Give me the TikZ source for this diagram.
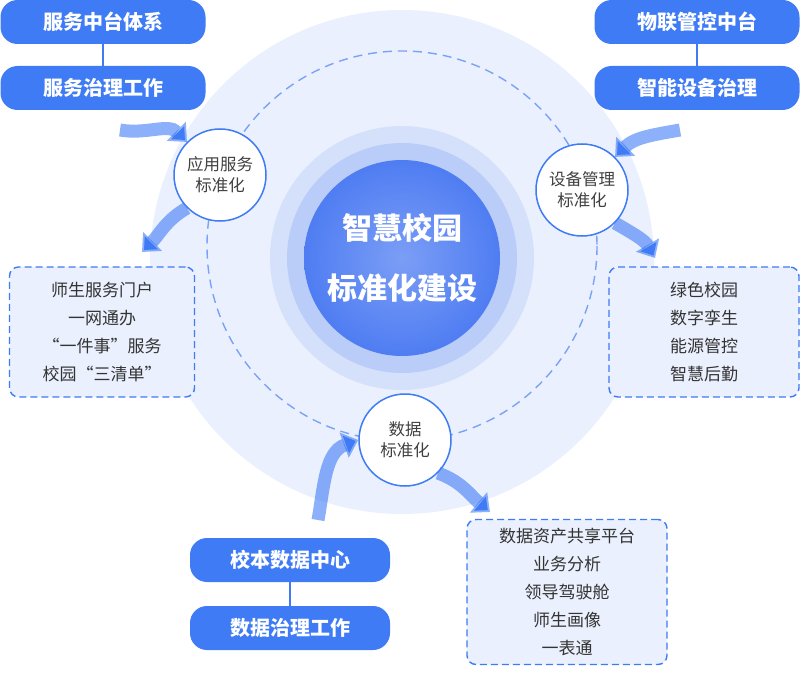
\documentclass[tikz,border=0pt]{standalone}
\usepackage{fontspec}
\setmainfont{Noto Sans CJK SC}
\usetikzlibrary{arrows.meta, positioning, fadings}
\definecolor{mainblue}{HTML}{3F7BF5}
\definecolor{paleblue}{HTML}{EAF0FD}
\definecolor{ringblue}{HTML}{B9CDF8}
\definecolor{coreblue}{HTML}{4F7DF2}

\begin{document}
\begin{tikzpicture}
    [
        x=1pt, y=-1pt,
        pill/.style = {
            rectangle, rounded corners=17pt, fill=mainblue, text=white,
            minimum width=205pt, minimum height=44pt, font=\bfseries\fontsize{20}{24}\selectfont
            },
        hub/.style = {
            circle, draw=mainblue, fill=white, line width=1.5pt, minimum size=92pt,
            align=center, text=black!75, font=\fontsize{16.5}{21}\selectfont
            },
        listbox/.style = {
            rectangle, rounded corners=9pt, draw=mainblue, line width=1.4pt,
            dash pattern=on 7pt off 4pt,
            fill=paleblue, align=center, text=black!80, font=\fontsize{17}{28}\selectfont
            },
        flow/.style = {
            line width=13pt, draw=mainblue, draw opacity=0.6,
            -{Triangle[width=26pt,length=15pt]}
            },
    ]
    \useasboundingbox (0,0) rectangle (800,674);
    %background rings
    \fill[paleblue] (402,262) circle (252);
    \draw[mainblue!70, line width=1.4pt, dash pattern=on 9pt off 6pt] (402,246) circle (195);
    \fill[ringblue!60] (402,258) circle (132);
    \fill[ringblue] (402,258) circle (115);
    \shade[inner color=coreblue!75, outer color=coreblue] (402,258) circle (98);
    \node[text=white, align=center, font=\bfseries\fontsize{30}{60}\selectfont] (core) at (402,258) {智慧校园\\标准化建设};
    %hubs
    \node[hub] (app) at (220,175) {应用服务\\标准化};
    \node[hub] (dev) at (582,190) {设备管理\\标准化};
    \node[hub] (data) at (405,440) {数据\\标准化};
    %pills
    \node[pill] (svcmid) at (103,22) {服务中台体系};
    \node[pill] (svcgov) at (103,88) {服务治理工作};
    \node[pill] (iotmid) at (697,22) {物联管控中台};
    \node[pill] (devgov) at (697,88) {智能设备治理};
    \node[pill, minimum width=200pt] (datactr) at (290,560) {校本数据中心};
    \node[pill, minimum width=200pt] (datagov) at (290,628) {数据治理工作};
    \draw[mainblue, line width=1.5pt] (svcmid) -- (svcgov);
    \draw[mainblue, line width=1.5pt] (iotmid) -- (devgov);
    \draw[mainblue, line width=1.5pt] (datactr) -- (datagov);
    %lists
    \node[listbox, minimum width=185pt, minimum height=130pt] (applist) at (102,332)
        {师生服务门户\\一网通办\\“一件事”服务\\校园“三清单”};
    \node[listbox, minimum width=190pt, minimum height=130pt] (devlist) at (704,332)
        {绿色校园\\数字孪生\\能源管控\\智慧后勤};
    \node[listbox, minimum width=200pt, minimum height=145pt] (datalist) at (567,592)
        {数据资产共享平台\\业务分析\\领导驾驶舱\\师生画像\\一表通};
    %flows
    \draw[flow] (120,130) to[out=-10, in=135] (app.north west);
    \draw[flow] (app.south west) to[out=210, in=45] (142,252);
    \draw[flow] (680,130) to[out=190, in=45] (dev.north east);
    \draw[flow] (dev.south east) to[out=-30, in=120] (655,258);
    \draw[flow] (318,520) to[out=80, in=200] (data.west);
    \draw[flow] (data.south east) to[out=-20, in=140] (490,512);
\end{tikzpicture}
\end{document}
